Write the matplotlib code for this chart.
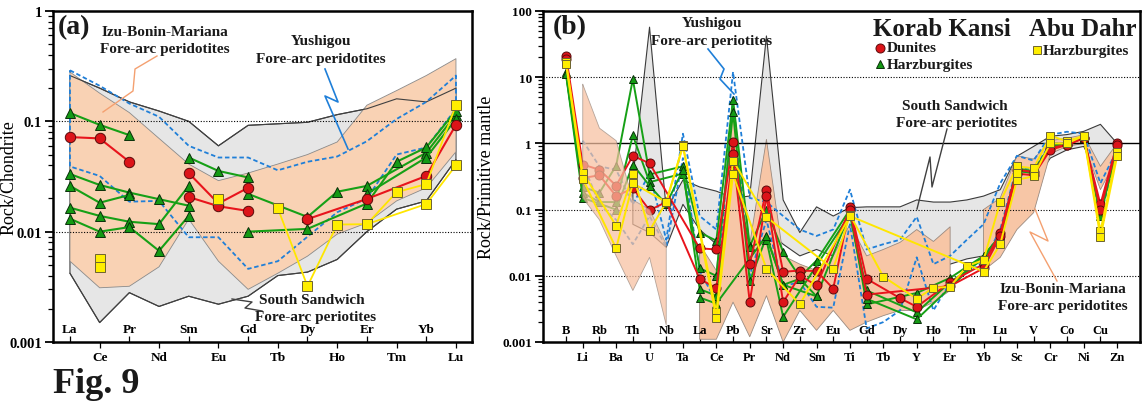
import numpy as np
import matplotlib
matplotlib.use('Agg')
import matplotlib.pyplot as plt
from matplotlib.lines import Line2D
from matplotlib.ticker import LogLocator, NullFormatter
import matplotlib.transforms as mtrans

n = np.nan
W, H = 1143, 410
SERIF = ['Liberation Serif', 'DejaVu Serif']

# ---------------- panel (a) : chondrite-normalised REE ----------------
ree = ['La', 'Ce', 'Pr', 'Nd', 'Sm', 'Eu', 'Gd', 'Tb', 'Dy', 'Ho', 'Er', 'Tm', 'Yb', 'Lu']

ibm_up_a = [0.28, 0.18, 0.12, 0.07, 0.041, 0.029, 0.034, 0.041, 0.05, 0.065, 0.14, 0.19, 0.26, 0.37]
ibm_lo_a = [0.0054, 0.0031, 0.0032, 0.0048, 0.013, 0.0054, 0.003, 0.0042, 0.006, 0.0095, 0.012, 0.019, 0.025, 0.053]
ss_up_a = [0.26, 0.2, 0.15, 0.124, 0.1, 0.06, 0.092, 0.095, 0.098, 0.115, 0.13, 0.16, 0.15, 0.2]
ss_lo_a = [0.0042, 0.0015, 0.0028, 0.0021, 0.0026, 0.0022, 0.0026, 0.004, 0.0043, 0.0056, 0.01, 0.016, 0.019, 0.045]
ysg_up_a = [0.29, 0.21, 0.145, 0.11, 0.06, 0.047, 0.047, 0.036, 0.043, 0.048, 0.066, 0.105, 0.15, 0.26]
ysg_lo_a = [0.039, 0.032, 0.0187, 0.019, 0.0089, 0.0089, 0.0046, 0.0054, 0.009, 0.015, 0.02, 0.05, 0.058, 0.13]

kk_dun_a = [
    [0.072, 0.070, 0.043, n, n, n, n, n, n, n, n, n, n, n],
    [n, n, n, n, 0.034, 0.018, 0.025, n, n, n, n, n, n, n],
    [n, n, n, n, 0.0206, 0.017, 0.0154, n, n, n, n, n, n, n],
    [n, n, n, n, n, n, n, n, 0.013, n, 0.0198, n, 0.032, 0.093],
]
kk_hz_a = [
    [0.119, 0.093, 0.075, n, n, n, n, n, n, n, n, n, n, n],
    [0.0333, 0.0265, 0.0226, 0.0197, 0.0172, n, n, n, n, n, n, n, n, n],
    [0.026, 0.0183, 0.0215, n, n, n, n, n, n, n, n, n, n, n],
    [0.0165, 0.0139, 0.0123, 0.0117, 0.026, n, n, n, n, n, n, n, n, n],
    [0.0131, 0.010, 0.011, 0.0067, 0.0139, n, n, n, n, n, n, n, n, n],
    [n, n, n, n, 0.047, 0.0355, 0.031, n, n, n, n, n, n, n],
    [n, n, n, n, n, n, 0.022, n, 0.0136, 0.023, 0.026, n, 0.052, 0.115],
    [n, n, n, n, n, n, 0.010, n, 0.0106, n, 0.018, 0.043, 0.058, 0.125],
    [n, n, n, n, n, n, n, n, n, n, 0.022, n, 0.047, 0.105],
]
ad_hz_a = [
    [n, 0.0057, n, n, n, n, n, n, n, n, n, n, n, n],
    [n, 0.0048, n, n, n, n, n, n, n, n, n, n, n, n],
    [n, n, n, n, n, 0.0198, n, n, n, n, n, n, n, n],
    [n, n, n, n, n, n, n, 0.0163, 0.0032, 0.0116, 0.0117, 0.0228, 0.027, 0.14],
    [n, n, n, n, n, n, n, n, n, n, 0.0117, n, 0.0178, 0.04],
]

# ---------------- panel (b) : primitive-mantle normalised ----------------
elem = ['B', 'Li', 'Rb', 'Ba', 'Th', 'U', 'Nb', 'Ta', 'La', 'Ce', 'Pb', 'Pr', 'Sr', 'Nd', 'Zr',
        'Sm', 'Eu', 'Ti', 'Gd', 'Tb', 'Dy', 'Y', 'Ho', 'Er', 'Tm', 'Yb', 'Lu', 'Sc', 'V', 'Cr',
        'Co', 'Ni', 'Cu', 'Zn']

ibm_up_b = [n, 7.8, 1.7, 1.1, 0.14, 0.1, 0.03, n, 0.03, 0.012, 4.0, 0.03, 1.15, 0.02, 0.015, 0.012, 0.02,
            0.06, 0.02, 0.025, 0.032, 0.05, 0.033, 0.055, n, 0.1, 0.15, 0.65, 0.58, 1.1, 1.2, 1.35, 0.45, 1.0]
ibm_lo_b = [n, 0.15, 0.07, 0.02, 0.006, 0.019, 0.0018, n, 0.0011, 0.0011, 0.004, 0.0012, 0.005, 0.001, 0.003,
            0.0015, 0.003, 0.0015, 0.002, 0.0025, 0.003, 0.003, 0.004, 0.006, n, 0.012, 0.019, 0.05, 0.09,
            0.7, 0.9, 1.0, 0.2, 0.6]
ss_up_b = [n, n, n, n, 0.3, 57, 0.1, 0.28, 0.22, 0.19, 0.15, 0.16, 42, 0.14, 0.045, 0.11, 0.08, 0.107,
           0.11, 0.11, 0.11, 0.14, 0.13, 0.13, 0.14, 0.16, 0.2, 0.64, 0.9, 1.28, 1.36, 1.52, 1.94, 1.0]
ss_lo_b = [n, n, n, n, 0.06, 0.045, 0.027, 0.12, 0.05, 0.03, 0.02, 0.03, 0.05, 0.03, 0.02, 0.025, 0.02,
           0.025, 0.01, 0.01, 0.01, 0.025, 0.012, 0.015, 0.018, 0.02, 0.03, 0.2, 0.25, 0.6, 0.8, 0.9, 0.28, 0.6]
ysg_up_b = [n, 1.1, 0.45, 0.4, 0.12, 0.35, 0.035, 1.4, 0.08, 0.05, 12, 0.15, 0.13, 0.08, 0.05, 0.04, 0.05,
            0.2, 0.025, 0.03, 0.035, 0.078, 0.015, 0.02, 0.035, 0.06, 0.25, 0.65, 0.55, 1.35, 1.5, 1.4, 0.25, 0.8]
ysg_lo_b = [n, 0.5, 0.12, 0.07, 0.03, 0.08, 0.027, 0.6, 0.012, 0.004, 5.0, 0.01, 0.07, 0.007, 0.008, 0.0034,
            0.0033, 0.06, 0.0016, 0.002, 0.003, 0.019, 0.003, 0.008, 0.011, 0.016, 0.05, 0.45, 0.4, 1.0, 1.0,
            1.2, 0.08, 0.7]

kk_dun_b = [
    [21, 0.48, 0.4, 0.23, 0.65, 0.5, n, n, 0.026, 0.025, 1.05, 0.015, 0.2, 0.0115, 0.012, 0.0118, 0.0064,
     0.11, 0.009, n, 0.0046, 0.0034, n, 0.008, n, 0.015, 0.045, 0.4, 0.37, 0.85, 0.96, 1.2, 0.12, 1.0],
    [19, 0.3, 0.33, 0.16, 0.21, 0.098, 0.13, n, 0.009, 0.0065, 0.7, 0.004, 0.16, 0.004, 0.01, 0.0072, n,
     0.1, 0.0052, n, n, n, n, 0.007, n, 0.013, 0.04, 0.35, 0.33, 0.8, 0.95, 1.2, 0.1, 0.95],
]
kk_hz_b = [
    [11, 0.22, 0.18, 0.46, 9.3, 0.34, n, 0.45, 0.045, 0.034, 4.6, 0.028, 0.1, 0.023, 0.0095, 0.017, n,
     0.1, 0.0037, n, n, 0.0055, n, 0.0093, n, 0.02, 0.04, 0.42, 0.38, 0.95, 1.0, 1.25, 0.09, 0.9],
    [12, 0.18, 0.13, 0.13, 1.32, 0.26, n, 0.35, 0.013, 0.01, 3.0, 0.0083, 0.039, 0.0073, 0.009, 0.0049, n,
     0.09, 0.006, n, n, 0.0028, n, 0.008, n, 0.018, 0.035, 0.38, 0.36, 0.9, 1.0, 1.2, 0.08, 0.85],
    [11, 0.15, n, 0.1, 0.48, 0.23, 0.12, 0.4, 0.0063, 0.005, 0.5, 0.027, 0.035, 0.0024, n, n, n,
     0.085, 0.0045, n, n, 0.0022, n, n, n, 0.02, 0.04, 0.4, 0.35, 0.9, 1.0, 1.2, 0.1, 0.85],
    [n, n, n, n, n, n, n, n, 0.0047, 0.0038, n, n, 0.04, 0.0073, n, 0.0049, n,
     n, n, n, n, n, n, n, n, n, n, n, n, n, n, n, n, n],
]
ad_hz_b = [
    [17, 0.36, n, 0.057, 0.34, 0.048, 0.13, 0.93, n, 0.0028, 0.55, n, 0.077, n, n, n, 0.0127, 0.084, n, 0.0097,
     n, 0.0045, 0.0066, 0.0068, 0.014, 0.0173, 0.13, 0.45, 0.42, 1.3, 1.08, 1.3, 0.047, 0.75],
    [16, 0.29, n, 0.026, 0.25, n, 0.13, 0.9, n, 0.0023, 0.34, n, 0.0128, n, 0.0037, n, n, 0.08, n, n,
     n, n, n, n, n, 0.0116, 0.03, 0.28, 0.32, 1.0, 1.0, 1.3, 0.038, 0.64],
    [n, n, n, n, n, n, n, n, n, n, n, n, n, n, n, n, n, n, n, n,
     n, n, n, n, n, n, n, 0.36, n, n, n, n, n, n],
]

# ---------------- styles ----------------
ORANGE = '#f9d2b4'
GREY = '#e6e6e6'
BLUE = '#1f7fd8'
RED_L, RED_F, RED_E = '#e8141c', '#dc1419', '#5a0a0a'
GRN_L, GRN_F, GRN_E = '#16a016', '#149a14', '#0a300a'
YEL_L, YEL_F, YEL_E = '#ffe600', '#ffee00', '#6d6330'

fig = plt.figure(figsize=(W / 100, H / 100), dpi=100)
axa = fig.add_axes([53 / W, 1 - 343 / H, (472 - 53) / W, (343 - 12) / H])
axb = fig.add_axes([543 / W, 1 - 343 / H, (1140 - 543) / W, (343 - 12) / H])


def runs(mask):
    out, start = [], None
    for i, m in enumerate(mask):
        if m and start is None:
            start = i
        if not m and start is not None:
            out.append((start, i)); start = None
    if start is not None:
        out.append((start, len(mask)))
    return out


def field(ax, up, lo, fc, ec, lw, z, alpha=1.0, ls='-', fill=True, idx=None):
    up = np.array(up, float); lo = np.array(lo, float); x = np.arange(len(up))
    m = ~np.isnan(up)
    if idx is not None:
        sel = np.zeros(len(up), bool); sel[idx[0]:idx[1]] = True; m = m & sel
    for a, b in runs(m):
        xs = x[a:b]
        if fill:
            ax.fill_between(xs, lo[a:b], up[a:b], facecolor=fc, edgecolor='none', zorder=z, alpha=alpha)
        if ec is not None:
            px = np.concatenate([xs, xs[::-1], xs[:1]])
            py = np.concatenate([up[a:b], lo[a:b][::-1], up[a:a + 1]])
            ax.plot(px, py, color=ec, lw=lw, ls=ls, zorder=z + 0.3, alpha=alpha)


def series(ax, vals, kind, ms, lw, z, alpha=1.0):
    v = np.array(vals, float); x = np.arange(len(v)); m = ~np.isnan(v)
    if kind == 'd':
        lc, mk, fc, ec = RED_L, 'o', RED_F, RED_E
    elif kind == 'h':
        lc, mk, fc, ec = GRN_L, '^', GRN_F, GRN_E
    else:
        lc, mk, fc, ec = YEL_L, 's', YEL_F, YEL_E
    ax.plot(x[m], v[m], color=lc, lw=lw, marker=mk, ms=ms, mfc=fc, mec=ec, mew=0.7, zorder=z,
            alpha=alpha, clip_on=False)


def style_axis(ax, names, ymax, ytl, ylabel, xlim, inner_y, fs_x, fs_y, lab_x):
    ax.set_yscale('log')
    ax.set_ylim(0.001, ymax)
    ax.set_xlim(*xlim)
    vals = [10.0 ** k for k in range(-3, int(round(np.log10(ymax))) + 1)]
    ax.set_yticks(vals)
    ax.set_yticklabels(ytl, fontfamily=SERIF, fontweight='bold', fontsize=fs_y)
    ax.yaxis.set_minor_locator(LogLocator(base=10, subs=np.arange(2, 10)))
    ax.yaxis.set_minor_formatter(NullFormatter())
    ax.tick_params(axis='y', which='major', direction='out', length=6, width=1.3, pad=2)
    ax.tick_params(axis='y', which='minor', direction='out', length=3.5, width=0.9)
    idx = np.arange(len(names))
    ax.set_xticks(idx[1::2])
    ax.set_xticklabels(names[1::2], fontfamily=SERIF, fontweight='bold', fontsize=fs_x)
    ax.set_xticks(idx[0::2], minor=True)
    ax.tick_params(axis='x', which='major', direction='out', length=4.5, width=0.9, pad=2)
    ax.tick_params(axis='x', which='minor', direction='in', length=4.5, width=0.9)
    tr = mtrans.blended_transform_factory(ax.transData, ax.transAxes)
    for i in idx[0::2]:
        ax.text(i, inner_y, names[i], transform=tr, ha='center', va='center',
                fontfamily=SERIF, fontweight='bold', fontsize=fs_x, zorder=9)
    for s in ax.spines.values():
        s.set_linewidth(1.8)
        s.set_zorder(10)
    ax.set_ylabel(ylabel, fontfamily=SERIF, fontsize=13)
    ax.yaxis.set_label_coords(lab_x, 0.5)


# ---------------- draw panel (a) ----------------
field(axa, ss_up_a, ss_lo_a, GREY, '#404040', 0.8, 1)
field(axa, ibm_up_a, ibm_lo_a, ORANGE, '#8a8a8a', 0.6, 1.6)
axa.plot(np.arange(len(ree)), ss_up_a, color='#404040', lw=0.8, zorder=2.2)
axa.plot(np.arange(len(ree)), ss_lo_a, color='#404040', lw=0.8, zorder=2.2)
for yv in (0.1, 0.01):
    axa.axhline(yv, color='k', ls=(0, (1, 1.5)), lw=0.8, zorder=2.5)
field(axa, ysg_up_a, ysg_lo_a, None, BLUE, 1.3, 3, ls=(0, (2.5, 1.5)), fill=False)
for s in kk_hz_a:
    series(axa, s, 'h', 7, 1.5, 4)
for s in kk_dun_a:
    series(axa, s, 'd', 7.5, 1.5, 5)
for s in ad_hz_a:
    series(axa, s, 'a', 6.5, 1.3, 6)
style_axis(axa, ree, 1, ['0.001', '0.01', '0.1', '1'], 'Rock/Chondrite',
           (-0.571, 13.54), 0.04, 9.5, 10.5, -0.085)

# ---------------- draw panel (b) ----------------
field(axb, ss_up_b, ss_lo_b, GREY, '#3a3a3a', 0.8, 1)
field(axb, ibm_up_b, ibm_lo_b, '#f7c6a6', '#9a8a80', 0.6, 1.6, idx=(7, 34))
axb.axhline(1, color='k', lw=1.0, zorder=2.5)
for yv in (10, 0.1, 0.01):
    axb.axhline(yv, color='k', ls=(0, (1, 1.5)), lw=0.8, zorder=2.5)
xb = np.arange(len(elem))
axb.plot(xb, ysg_up_b, color=BLUE, lw=1.3, ls=(0, (2.5, 1.5)), zorder=3)
axb.plot(xb, ysg_lo_b, color=BLUE, lw=1.3, ls=(0, (2.5, 1.5)), zorder=3)
for s in kk_hz_b:
    series(axb, s, 'h', 6, 1.4, 4)
for s in kk_dun_b:
    series(axb, s, 'd', 6.5, 1.4, 5)
# left part of the IBM field lies over the data (faded symbols)
field(axb, ibm_up_b, ibm_lo_b, '#f7c0a0', '#9a8a80', 0.6, 5.5, alpha=0.72, idx=(0, 7))
for s in ad_hz_b:
    series(axb, s, 'a', 6, 1.4, 6)
style_axis(axb, elem, 100, ['0.001', '0.01', '0.1', '1', '10', '100'], 'Rock/Primitive mantle',
           (-1.38, 34.37), 0.035, 9, 9.5, -0.08)


# ---------------- annotations ----------------
def ftext(x, y, s, size, ha='center', weight='bold', color='#1a1a1a'):
    fig.text(x / W, 1 - y / H, s, ha=ha, va='center', fontsize=size, fontweight=weight,
             fontfamily=SERIF, color=color, zorder=20)


def leader(pts, color, lw=1.0):
    xs = [p[0] / W for p in pts]; ys = [1 - p[1] / H for p in pts]
    fig.add_artist(Line2D(xs, ys, color=color, lw=lw, transform=fig.transFigure, zorder=19))


ftext(58, 28, '(a)', 20, ha='left')
ftext(165, 32, 'Izu-Bonin-Mariana', 11)
ftext(165, 49, 'Fore-arc peridotites', 11)
leader([(103, 113), (133, 92), (135, 70), (157, 57)], '#f4a070')
ftext(321, 42, 'Yushigou', 11)
ftext(321, 60, 'Fore-arc peridotites', 11)
leader([(325, 70), (338, 103), (325, 97), (348, 150)], BLUE, 1.2)
ftext(312, 301, 'South Sandwich', 11)
ftext(316, 317, 'Fore-arc periotites', 11)
leader([(232, 300), (252, 303), (245, 309), (262, 312)], '#404040')

ftext(553, 28, '(b)', 20, ha='left')
ftext(712, 23, 'Yushigou', 11)
ftext(712, 41, 'Fore-arc periotites', 11)
leader([(708, 50), (724, 70), (720, 80), (734, 95)], BLUE, 1.2)
ftext(942, 29, 'Korab Kansi', 18)
ftext(1083, 29, 'Abu Dahr', 18)
fig.add_artist(Line2D([880 / W], [1 - 49 / H], marker='o', ms=6.5, mfc=RED_F, mec=RED_E, mew=0.7,
                      ls='none', transform=fig.transFigure, zorder=20))
ftext(887, 49, 'Dunites', 11, ha='left')
fig.add_artist(Line2D([880 / W], [1 - 65 / H], marker='^', ms=6, mfc=GRN_F, mec=GRN_E, mew=0.7,
                      ls='none', transform=fig.transFigure, zorder=20))
ftext(887, 65, 'Harzburgites', 11, ha='left')
fig.add_artist(Line2D([1037 / W], [1 - 51 / H], marker='s', ms=6, mfc=YEL_F, mec=YEL_E, mew=0.7,
                      ls='none', transform=fig.transFigure, zorder=20))
ftext(1043, 51, 'Harzburgites', 11, ha='left')
ftext(955, 106, 'South Sandwich', 11)
ftext(957, 123, 'Fore-arc periotites', 11)
leader([(947, 130), (932, 188), (930, 158), (917, 210)], '#404040')
ftext(1063, 290, 'Izu-Bonin-Mariana', 11)
ftext(1063, 307, 'Fore-arc peridotites', 11)
leader([(1035, 210), (1048, 242), (1030, 233), (1057, 282)], '#f4a070')

ftext(53, 385, 'Fig. 9', 26, ha='left')

fig.savefig('out.png', dpi=100)
